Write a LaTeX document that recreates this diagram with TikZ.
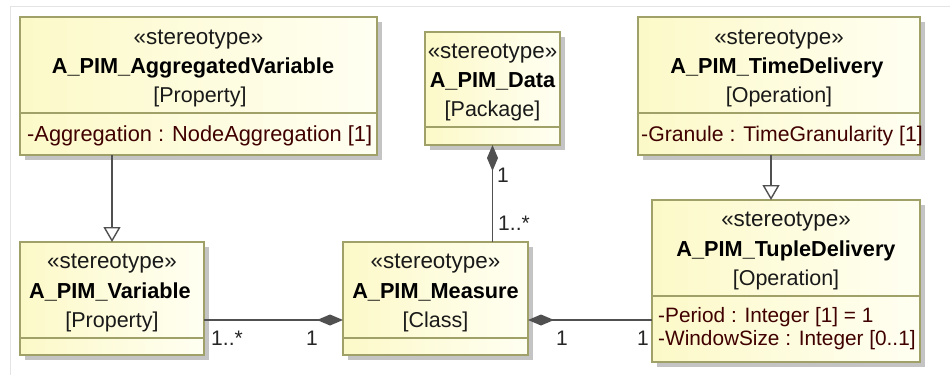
\documentclass[tikz,border=0pt]{standalone}
\usepackage{fontspec}
\setmainfont{Liberation Sans}
\usetikzlibrary{arrows.meta,shadows,calc}
\definecolor{boxfillA}{RGB}{252,249,200}
\definecolor{boxfillB}{RGB}{255,255,242}
\definecolor{boxborder}{RGB}{160,160,105}
\definecolor{boxshadow}{RGB}{196,196,196}
\definecolor{attrcol}{RGB}{64,0,0}
\definecolor{linecol}{RGB}{80,80,80}
\definecolor{framecol}{RGB}{228,228,228}
\tikzset{
  umlbox/.style={draw=boxborder, line width=1.6pt, left color=boxfillA, right color=boxfillB,
    rectangle, inner sep=0pt, outer sep=0pt, anchor=north west,
    general shadow={fill=boxshadow, shadow xshift=5pt, shadow yshift=-5pt}},
  sepline/.style={draw=boxborder, line width=1.4pt},
  stereo/.style={anchor=base, inner sep=0pt, font=\fontsize{22.4}{26}\selectfont, text=black!90},
  cname/.style={anchor=base, inner sep=0pt, font=\fontsize{21.7}{26}\selectfont\bfseries, text=black},
  kind/.style={anchor=base, inner sep=0pt, font=\fontsize{21.5}{26}\selectfont, text=black!90},
  attr/.style={anchor=base west, inner sep=0pt, font=\fontsize{21.2}{26}\selectfont, text=attrcol},
  mult/.style={anchor=base, inner sep=0pt, font=\fontsize{21}{26}\selectfont, text=black!85},
  gen/.style={draw=linecol, line width=1.6pt, -{Triangle[open, length=15pt, width=17pt, fill=white, line width=1.4pt]}},
  comp/.style={draw=linecol, line width=1.6pt, {Diamond[length=26pt, width=11pt, fill=linecol]}-},
}
\begin{document}
\begin{tikzpicture}[x=1pt,y=-1pt]
\useasboundingbox (0,0) rectangle (950,375);
\fill[white] (0,0) rectangle (950,375);
\draw[framecol, line width=1pt] (10,375) -- (10,6) -- (950,6);

% A_PIM_AggregatedVariable
\node[umlbox, minimum width=357pt, minimum height=138pt] (agg) at (20,17) {};
\draw[sepline] (agg.west |- 0,113) -- (agg.east |- 0,113);
\node[stereo] (aggS) at (198.5,44) {«stereotype»};
\node[cname] (aggN) at (193,73.5) {A\_PIM\_AggregatedVariable};
\node[kind] (aggK) at (200,102) {[Property]};
\node[attr, font=\fontsize{21.8}{26}\selectfont] (aggA) at (27,141) {-Aggregation : NodeAggregation [1]};

% A_PIM_Variable
\node[umlbox, minimum width=184pt, minimum height=113pt] (var) at (20,242) {};
\draw[sepline] (var.west |- 0,338) -- (var.east |- 0,338);
\node[stereo] (varS) at (112,268.5) {«stereotype»};
\node[cname] (varN) at (110,298) {A\_PIM\_Variable};
\node[kind] (varK) at (112,327) {[Property]};

% A_PIM_Data
\node[umlbox, minimum width=135pt, minimum height=113pt] (data) at (425,32) {};
\draw[sepline] (data.west |- 0,127) -- (data.east |- 0,127);
\node[stereo] (dataS) at (492.5,58) {«stereotype»};
\node[cname] (dataN) at (492.5,87.5) {A\_PIM\_Data};
\node[kind] (dataK) at (492.5,116) {[Package]};

% A_PIM_TimeDelivery
\node[umlbox, minimum width=282pt, minimum height=138pt] (td) at (638,17) {};
\draw[sepline] (td.west |- 0,113) -- (td.east |- 0,113);
\node[stereo] (tdS) at (779,44) {«stereotype»};
\node[cname] (tdN) at (777,73.5) {A\_PIM\_TimeDelivery};
\node[kind] (tdK) at (779,102) {[Operation]};
\node[attr] (tdA) at (641,141) {-Granule : TimeGranularity [1]};

% A_PIM_Measure
\node[umlbox, minimum width=185pt, minimum height=113pt] (meas) at (343,242) {};
\draw[sepline] (meas.west |- 0,338) -- (meas.east |- 0,338);
\node[stereo] (measS) at (435.5,268.5) {«stereotype»};
\node[cname] (measN) at (435.5,298) {A\_PIM\_Measure};
\node[kind] (measK) at (435.5,327) {[Class]};

% A_PIM_TupleDelivery
\node[umlbox, minimum width=268pt, minimum height=162pt] (tup) at (652,200) {};
\draw[sepline] (tup.west |- 0,296) -- (tup.east |- 0,296);
\node[stereo] (tupS) at (786,226.5) {«stereotype»};
\node[cname] (tupN) at (786,256) {A\_PIM\_TupleDelivery};
\node[kind] (tupK) at (786,285) {[Operation]};
\node[attr, font=\fontsize{20.8}{26}\selectfont] (tupA1) at (658,322) {-Period : Integer [1] = 1};
\node[attr, font=\fontsize{20.8}{26}\selectfont] (tupA2) at (658,345) {-WindowSize : Integer [0..1]};

% generalizations
\draw[gen] (var.north |- agg.south) -- (var.north);
\draw[gen] ([xshift=-8pt]td.south) -- ([xshift=-8pt]td.south |- tup.north);

% compositions
\draw[comp] (data.south) -- (data.south |- meas.north);
\coordinate (mW) at ([yshift=-21.5pt]meas.west);
\coordinate (mE) at ([yshift=-21.5pt]meas.east);
\draw[comp] (mW) -- (mW -| var.east);
\draw[comp] (mE) -- (mE -| tup.west);

% multiplicities
\node[mult] (m1) at (227,345) {1..*};
\node[mult] (m2) at (312,345) {1};
\node[mult] (m3) at (503,182) {1};
\node[mult] (m4) at (514,230) {1..*};
\node[mult] (m5) at (562,345) {1};
\node[mult] (m6) at (643,345) {1};
\end{tikzpicture}
\end{document}
